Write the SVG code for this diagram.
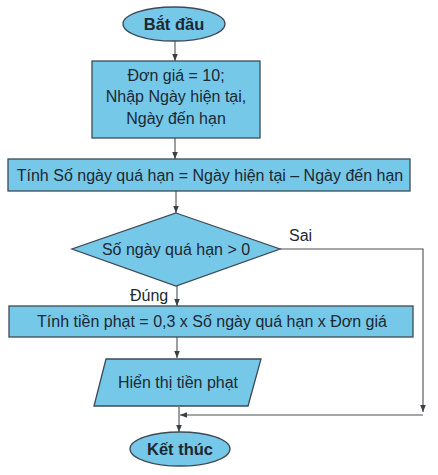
<svg xmlns="http://www.w3.org/2000/svg" width="438" height="475" viewBox="0 0 438 475">
<defs>
<marker id="arr" viewBox="0 0 10 10" refX="10" refY="5" markerWidth="7" markerHeight="7" orient="auto" markerUnits="userSpaceOnUse">
<path d="M0,1 L10,5 L0,9 Z" fill="#3a3f45"/>
</marker>
<style>
.shape{fill:#76c8e8;stroke:#3d4a55;stroke-width:1.3}
.t{font-family:"Liberation Sans",Arial,sans-serif;font-size:16px;fill:#1c2833;text-anchor:middle}
.b{font-weight:bold;font-size:16.5px}
.lbl{font-family:"Liberation Sans",Arial,sans-serif;font-size:16px;fill:#1c2833}
.c{fill:none;stroke:#4a4f55;stroke-width:1.1}
</style>
</defs>
<rect width="438" height="475" fill="#ffffff"/>
<g id="connectors">
<line class="c" x1="175" y1="41" x2="175" y2="61" marker-end="url(#arr)"/>
<line class="c" x1="175" y1="138" x2="175" y2="159" marker-end="url(#arr)"/>
<line class="c" x1="176" y1="191" x2="176" y2="213" marker-end="url(#arr)"/>
<line class="c" x1="177" y1="286" x2="177" y2="306" marker-end="url(#arr)"/>
<line class="c" x1="177" y1="337" x2="177" y2="358" marker-end="url(#arr)"/>
<line class="c" x1="179" y1="407" x2="179" y2="432" marker-end="url(#arr)"/>
<polyline class="c" points="280,249 423,249 423,412" marker-end="url(#arr)"/>
<line class="c" x1="423" y1="415" x2="180" y2="415" marker-end="url(#arr)"/>
<text class="lbl" x="289" y="241">Sai</text>
<text class="lbl" x="130" y="301">Đúng</text>
</g>
<g id="start">
<ellipse class="shape" cx="174" cy="24" rx="51" ry="17"/>
<text class="t b" x="174" y="30">Bắt đầu</text>
</g>
<g id="input">
<rect class="shape" x="92" y="61" width="168" height="77"/>
<text class="t" x="176" y="81">Đơn giá = 10;</text>
<text class="t" x="176" y="102">Nhập Ngày hiện tại,</text>
<text class="t" x="176" y="124">Ngày đến hạn</text>
</g>
<g id="compute">
<rect class="shape" x="8" y="159" width="402" height="32"/>
<text class="t" x="210" y="181">Tính Số ngày quá hạn = Ngày hiện tại – Ngày đến hạn</text>
</g>
<g id="decision">
<polygon class="shape" points="176,213 280,249 176,286 72,249"/>
<text class="t" x="176" y="255">Số ngày quá hạn &gt; 0</text>
</g>
<g id="fine">
<rect class="shape" x="9" y="306" width="404" height="31"/>
<text class="t" x="212" y="327">Tính tiền phạt = 0,3 x Số ngày quá hạn x Đơn giá</text>
</g>
<g id="output">
<polygon class="shape" points="106,359 261,359 248,406 94,406"/>
<text class="t" x="178" y="388">Hiển thị tiền phạt</text>
</g>
<g id="end">
<ellipse class="shape" cx="180" cy="449" rx="50" ry="17"/>
<text class="t b" x="180" y="455">Kết thúc</text>
</g>
</svg>
